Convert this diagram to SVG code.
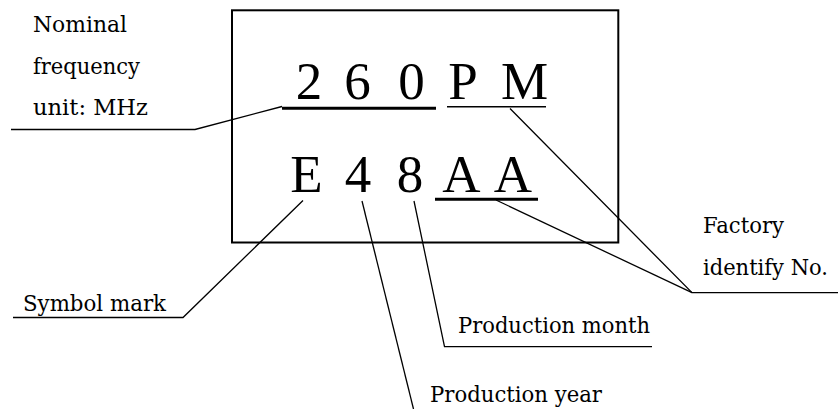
<svg xmlns="http://www.w3.org/2000/svg" width="838" height="409" viewBox="0 0 838 409">
<style>
.big{font-family:"Liberation Serif","Times New Roman",serif;font-size:53px;fill:#000;text-anchor:middle}
.lbl{font-family:"DejaVu Serif","Liberation Serif",serif;font-size:21.5px;fill:#000}
.ln{fill:none;stroke:#000;stroke-width:1.3}
.ul{stroke:#000;stroke-width:3}
</style>
<rect width="838" height="409" fill="#fff"/>
<g id="marking-box">
<rect x="232" y="10.3" width="386.3" height="232.2" fill="none" stroke="#000" stroke-width="2"/>
<text class="big" x="309" y="98.5">2</text>
<text class="big" x="357.5" y="98.5">6</text>
<text class="big" x="411.5" y="98.5">0</text>
<text class="big" x="463" y="98.5">P</text>
<text class="big" x="524.5" y="98.5">M</text>
<line class="ul" x1="282" y1="108.3" x2="436" y2="108.3"/>
<line x1="447" y1="106.8" x2="546" y2="106.8" stroke="#000" stroke-width="1.6"/>
<text class="big" x="306.5" y="192">E</text>
<text class="big" x="358" y="192">4</text>
<text class="big" x="410" y="192">8</text>
<text class="big" x="461.5" y="192">A</text>
<text class="big" x="513" y="192">A</text>
<line class="ul" x1="435" y1="199.3" x2="538" y2="199.3"/>
</g>
<g id="label-nominal">
<text class="lbl" x="33" y="31.7" textLength="94" lengthAdjust="spacingAndGlyphs">Nominal</text>
<text class="lbl" x="33" y="73.5" textLength="107" lengthAdjust="spacingAndGlyphs">frequency</text>
<text class="lbl" x="33" y="114.5" textLength="115" lengthAdjust="spacingAndGlyphs">unit: MHz</text>
</g>
<g id="label-factory">
<text class="lbl" x="703" y="233" textLength="81" lengthAdjust="spacingAndGlyphs">Factory</text>
<text class="lbl" x="703" y="275" textLength="125" lengthAdjust="spacingAndGlyphs">identify No.</text>
</g>
<g id="label-symbol">
<text class="lbl" x="23" y="310.7" textLength="143" lengthAdjust="spacingAndGlyphs">Symbol mark</text>
</g>
<g id="label-month">
<text class="lbl" x="458" y="333" textLength="192" lengthAdjust="spacingAndGlyphs">Production month</text>
</g>
<g id="label-year">
<text class="lbl" x="430" y="401.5" textLength="172" lengthAdjust="spacingAndGlyphs">Production year</text>
</g>
<g id="connectors">
<polyline class="ln" points="11,129.5 195,129.5 282,106.5"/>
<polyline class="ln" points="510,108.5 692,292.7 838,292.7"/>
<line class="ln" x1="496" y1="200" x2="692" y2="292.7"/>
<polyline class="ln" points="13,317.5 183,317.5 303,200.5"/>
<line class="ln" x1="362" y1="201" x2="413.5" y2="409"/>
<polyline class="ln" points="414,201 444.5,346.7 652,346.7"/>
</g>
</svg>
